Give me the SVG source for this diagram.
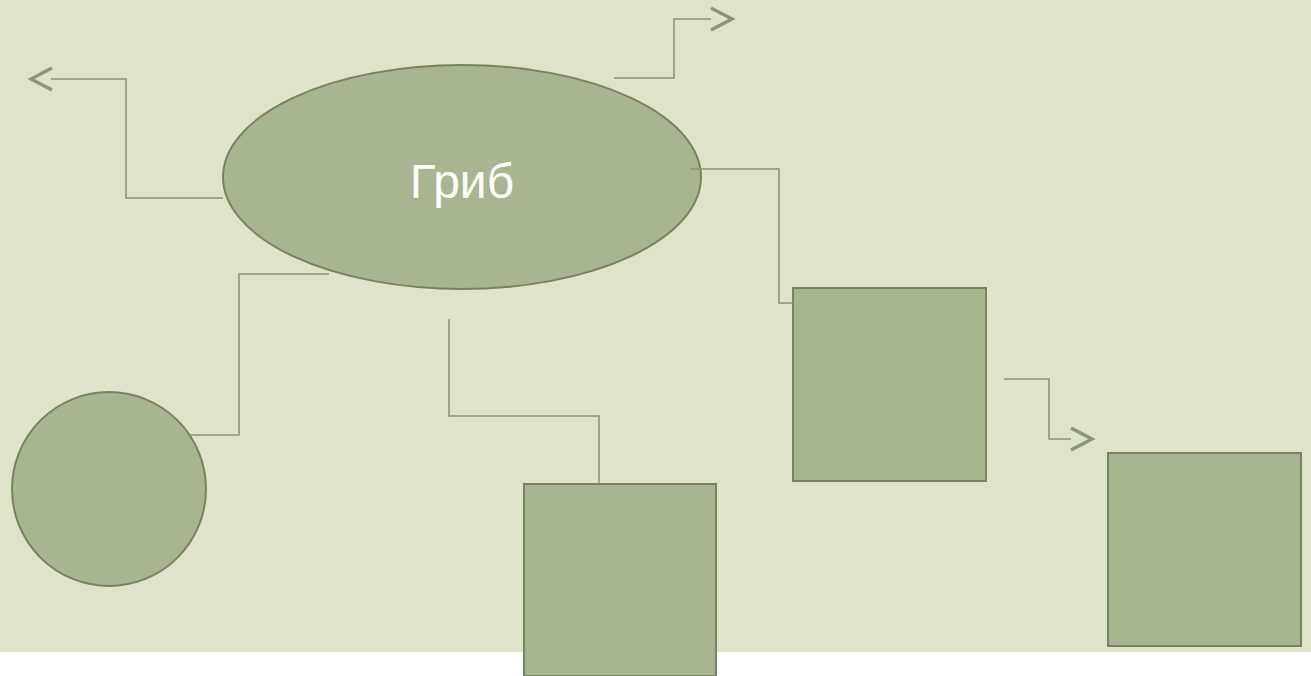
<svg xmlns="http://www.w3.org/2000/svg" width="1311" height="676" viewBox="0 0 1311 676">
<defs>
<style>
.bg{fill:#DFE3C9}
.shape{fill:#A7B591;stroke:#758460;stroke-width:2}
.conn{fill:none;stroke:#879873;stroke-width:1.6}
.head{fill:none;stroke:#879873;stroke-width:3.4}
.label{font-family:"Liberation Sans",Arial,sans-serif;font-size:48px;fill:#FFFFFF;text-anchor:middle}
</style>
</defs>
<rect x="0" y="0" width="1311" height="676" fill="#FFFFFF"/>
<rect class="bg" x="0" y="0" width="1311" height="652"/>
<g id="node-mushroom">
<ellipse class="shape" cx="462" cy="177" rx="239" ry="112"/>
<text class="label" x="462" y="198">Гриб</text>
</g>
<g id="node-circle">
<circle class="shape" cx="109" cy="489" r="97"/>
</g>
<g id="node-square-bottom">
<rect class="shape" x="524" y="484" width="192" height="192"/>
</g>
<g id="node-square-middle">
<rect class="shape" x="793" y="288" width="193" height="193"/>
</g>
<g id="node-square-right">
<rect class="shape" x="1108" y="453" width="193" height="193"/>
</g>
<g id="connectors">
<polyline class="conn" points="223,198 126,198 126,79 51,79"/>
<polyline class="head" points="52,68 31,79 52,90"/>
<polyline class="conn" points="614,78 674,78 674,19 711,19"/>
<polyline class="head" points="711,8 732,19 711,30"/>
<polyline class="conn" points="690,169 779,169 779,303 793,303"/>
<polyline class="conn" points="329,274 239,274 239,435 190,435"/>
<polyline class="conn" points="449,319 449,416 599,416 599,484"/>
<polyline class="conn" points="1004,379 1049,379 1049,439 1071,439"/>
<polyline class="head" points="1071,428 1092,439 1071,450"/>
</g>
</svg>
